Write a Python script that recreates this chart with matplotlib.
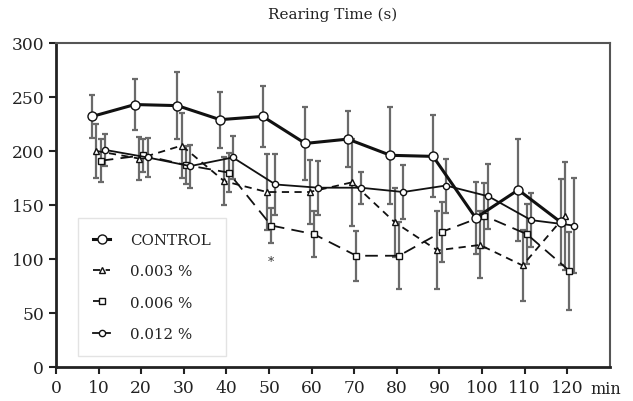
import numpy as np
import matplotlib
matplotlib.use("Agg")
import matplotlib.pyplot as plt

# Rearing time over the session, four groups
minuten = [10, 20, 30, 40, 50, 60, 70, 80, 90, 100, 110, 120]

control = [232, 243, 242, 229, 232, 207, 211, 196, 195, 138, 164, 134]
control_err = [20, 24, 31, 26, 28, 34, 26, 45, 38, 33, 47, 40]

dosis_003 = [200, 193, 205, 172, 162, 162, 171, 134, 108, 113, 94, 140]
dosis_003_err = [25, 20, 30, 22, 35, 30, 40, 32, 36, 31, 33, 50]

dosis_006 = [191, 196, 187, 180, 131, 123, 103, 103, 125, 140, 123, 89]
dosis_006_err = [20, 15, 18, 18, 16, 21, 23, 31, 28, 30, 28, 36]

dosis_012 = [201, 194, 186, 194, 169, 166, 166, 162, 168, 158, 136, 131]
dosis_012_err = [15, 18, 20, 20, 28, 25, 15, 25, 25, 30, 25, 44]

gruppen = ["CONTROL", "0.003 %", "0.006 %", "0.012 %"]

plt.rcParams['font.family'] = ['DejaVu Serif']

fig = plt.figure(figsize=(6.33, 4.02), dpi=100)
ax = fig.add_axes([0.0885, 0.0846, 0.875, 0.806])

x = np.array(minuten, dtype=float)

stile = [
    dict(werte=control, err=control_err, dx=-1.5, ls='-', lw=2.2, marker='o', ms=6.5, z=5),
    dict(werte=dosis_003, err=dosis_003_err, dx=-0.5, ls=(0, (4, 3)), lw=1.3, marker='^', ms=4.5, z=4),
    dict(werte=dosis_006, err=dosis_006_err, dx=0.5, ls=(0, (7, 4)), lw=1.3, marker='s', ms=4.5, z=4),
    dict(werte=dosis_012, err=dosis_012_err, dx=1.5, ls='-', lw=1.3, marker='o', ms=4.5, z=4),
]

for name, s in zip(gruppen, stile):
    xs = x + s['dx']
    ax.errorbar(xs, s['werte'], yerr=s['err'], fmt='none', ecolor='#6a6a6a',
                elinewidth=1.6, capsize=2.5, capthick=1.6, zorder=2)
    ax.plot(xs, s['werte'], color='#111111', linestyle=s['ls'], linewidth=s['lw'],
            marker=s['marker'], markersize=s['ms'], markerfacecolor='white',
            markeredgecolor='#111111', markeredgewidth=1.0, label=name, zorder=s['z'])

# significance mark under the 0.006 % point at 50 min
i50 = minuten.index(50)
ax.text(50 + 0.5, dosis_006[i50] - dosis_006_err[i50] - 17, "*", ha='center',
        va='center', fontsize=9, color='#333333')

ax.set_xlim(0, 130)
ax.set_ylim(0, 300)
ax.set_xticks(range(0, 121, 10))
ax.set_yticks(range(0, 301, 50))
ax.tick_params(direction='out', length=5, width=1.5, labelsize=12.3, colors='#222222', pad=3.5)

for seite in ['left', 'bottom']:
    ax.spines[seite].set_linewidth(2.0)
    ax.spines[seite].set_color('#222222')
for seite in ['top', 'right']:
    ax.spines[seite].set_linewidth(1.5)
    ax.spines[seite].set_color('#555555')

ax.set_title("Rearing Time (s)", fontsize=11, pad=18, color='#222222')
ax.text(0.964, -0.067, "min", transform=ax.transAxes, fontsize=11.5, color='#222222',
        ha='left', va='center')

leg = ax.legend(loc='lower left', bbox_to_anchor=(0.04, 0.034), frameon=True, fancybox=False,
                edgecolor='#dddddd', fontsize=10.8, handlelength=1.15, handletextpad=1.3,
                labelspacing=1.15, borderpad=1.0, borderaxespad=0)
leg.get_frame().set_linewidth(1.0)
for t in leg.get_texts():
    t.set_color('#222222')

fig.savefig("out.png", dpi=100)
